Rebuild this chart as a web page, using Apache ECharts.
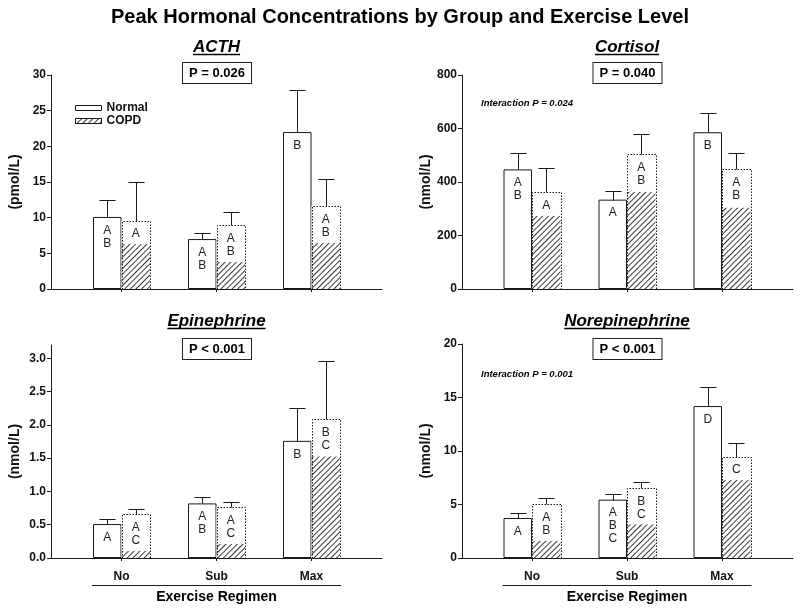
<!DOCTYPE html>
<html><head><meta charset="utf-8">
<script src="https://cdn.jsdelivr.net/npm/echarts@6/dist/echarts.min.js"></script>
<style>html,body{margin:0;padding:0;background:#fff}#c{width:800px;height:610px}</style>
</head><body><div id="c"></div>
<script>
// ---------- DATA ----------
const categories = ['No', 'Sub', 'Max'];

const acthNormal = [10.1, 7.0, 22.0];
const acthNormalErr = [12.5, 7.9, 27.9];
const acthCopd = [9.6, 9.0, 11.6];
const acthCopdErr = [15.0, 10.8, 15.4];
const acthCopdHatch = [6.3, 3.8, 6.5];
const acthNormalLetters = ['A\nB', 'A\nB', 'B'];
const acthCopdLetters = ['A', 'A\nB', 'A\nB'];

const cortNormal = [447, 334, 586];
const cortNormalErr = [510, 368, 658];
const cortCopd = [361, 503, 447];
const cortCopdErr = [452, 581, 510];
const cortCopdHatch = [274, 364, 305];
const cortNormalLetters = ['A\nB', 'A', 'B'];
const cortCopdLetters = ['A', 'A\nB', 'A\nB'];

const epiNormal = [0.51, 0.82, 1.76];
const epiNormalErr = [0.58, 0.92, 2.25];
const epiCopd = [0.66, 0.77, 2.09];
const epiCopdErr = [0.74, 0.84, 2.96];
const epiCopdHatch = [0.11, 0.21, 1.53];
const epiNormalLetters = ['A', 'A\nB', 'B'];
const epiCopdLetters = ['A\nC', 'A\nC', 'B\nC'];

const norNormal = [3.74, 5.45, 14.2];
const norNormalErr = [4.24, 6.01, 16.0];
const norCopd = [5.02, 6.51, 9.47];
const norCopdErr = [5.58, 7.13, 10.78];
const norCopdHatch = [1.62, 3.15, 7.32];
const norNormalLetters = ['A', 'A\nB\nC', 'D'];
const norCopdLetters = ['A\nB', 'B\nC', 'C'];

const acthTicks = [0, 5, 10, 15, 20, 25, 30];
const cortTicks = [0, 200, 400, 600, 800];
const epiTicks = [0, 0.5, 1.0, 1.5, 2.0, 2.5, 3.0];
const norTicks = [0, 5, 10, 15, 20];

// ---------- LAYOUT ----------
const FONT = '"Liberation Sans", Arial, Helvetica, sans-serif';
const panels = [
  {title:'ACTH', p:'P = 0.026', unit:'(pmol/L)', axisX:51, catLeft:74, top:75, h:214, max:30, ticks:acthTicks, dec:0,
   n:acthNormal, ne:acthNormalErr, c:acthCopd, ce:acthCopdErr, ch:acthCopdHatch, nl:acthNormalLetters, cl:acthCopdLetters, xl:false},
  {title:'Cortisol', p:'P = 0.040', unit:'(nmol/L)', axisX:462, catLeft:484.5, top:75, h:214, max:800, ticks:cortTicks, dec:0,
   n:cortNormal, ne:cortNormalErr, c:cortCopd, ce:cortCopdErr, ch:cortCopdHatch, nl:cortNormalLetters, cl:cortCopdLetters, xl:false,
   inter:'Interaction P = 0.024'},
  {title:'Epinephrine', p:'P < 0.001', unit:'(nmol/L)', axisX:51, catLeft:74, top:345, h:213, max:3.2, ticks:epiTicks, dec:1,
   n:epiNormal, ne:epiNormalErr, c:epiCopd, ce:epiCopdErr, ch:epiCopdHatch, nl:epiNormalLetters, cl:epiCopdLetters, xl:true},
  {title:'Norepinephrine', p:'P < 0.001', unit:'(nmol/L)', axisX:462, catLeft:484.5, top:344, h:214, max:20, ticks:norTicks, dec:0,
   n:norNormal, ne:norNormalErr, c:norCopd, ce:norCopdErr, ch:norCopdHatch, nl:norNormalLetters, cl:norCopdLetters, xl:true,
   inter:'Interaction P = 0.001'}
];

const grid = [], xAxis = [], yAxis = [], series = [], graphic = [];
const LINE = '#1a1a1a';

const ctx = document.createElement('canvas').getContext('2d');
function textW(txt, font){ ctx.font = font; return ctx.measureText(txt).width; }

// error bars (and, for COPD, the dotted outline of the whole bar)
function errSeries(pi, vals, errs, sign){
  return {
    type:'custom', xAxisIndex:pi, yAxisIndex:pi, z:4, silent:true,
    data: vals.map((v,i)=>[i, v, errs[i]]),
    renderItem:(params, api)=>{
      const i = api.value(0);
      const base = api.coord([i, api.value(1)]);
      const top = api.coord([i, api.value(2)]);
      const zero = api.coord([i, 0]);
      const band = api.size([1,0])[0];
      const bw = band*0.3;
      const x = Math.round(base[0] + sign*band*0.15) + 0.5;
      const cap = band*0.085;
      const yt = Math.round(top[1]) + 0.5;
      const yb = Math.round(base[1]) + 0.5;
      const children = [
        {type:'line', shape:{x1:x, y1:yb, x2:x, y2:yt}, style:{stroke:LINE, lineWidth:1}},
        {type:'line', shape:{x1:x-cap, y1:yt, x2:x+cap, y2:yt}, style:{stroke:LINE, lineWidth:1}}
      ];
      if (sign > 0){
        const xl = Math.round(base[0]) + 0.5, xr = Math.round(base[0] + bw) + 0.5;
        const y0 = Math.round(zero[1]) + 0.5;
        children.push({type:'polyline', shape:{points:[[xl,y0],[xl,yb],[xr,yb],[xr,y0]]},
          style:{stroke:LINE, lineWidth:1, lineDash:[1.5,1.5], fill:null}});
      }
      return {type:'group', children};
    }
  };
}

const hatch = {symbol:'rect', symbolSize:1, symbolKeepAspect:false, color:'#3a3a3a', backgroundColor:null,
  dashArrayX:[1,0], dashArrayY:[1,3], rotation:-Math.PI/4};

panels.forEach((P, pi)=>{
  grid.push({left:P.catLeft, width:285, top:P.top, height:P.h, containLabel:false, outerBoundsMode:'none'});
  xAxis.push({type:'category', gridIndex:pi, data:categories, boundaryGap:true,
    axisLine:{show:false}, axisTick:{show:true, alignWithLabel:true, length:3, lineStyle:{color:LINE}},
    axisLabel:{show:P.xl, margin:13, fontFamily:FONT, fontSize:12, fontWeight:'bold', color:'#111'}});
  yAxis.push({type:'value', gridIndex:pi, min:0, max:P.max, position:'left', offset:P.catLeft-P.axisX,
    splitLine:{show:false},
    axisLine:{show:true, lineStyle:{color:LINE}},
    axisTick:{show:true, inside:false, length:4, customValues:P.ticks, lineStyle:{color:LINE}},
    axisLabel:{customValues:P.ticks, margin:5, fontFamily:FONT, fontSize:12, fontWeight:'bold', color:'#111',
      formatter:v=>Number(v).toFixed(P.dec)},
    name:P.unit, nameLocation:'middle', nameGap:29,
    nameTextStyle:{fontFamily:FONT, fontSize:14, fontWeight:'bold', color:'#111'}});

  series.push({type:'bar', name:'Normal', xAxisIndex:pi, yAxisIndex:pi, data:P.n, barWidth:'30%', barGap:'0%',
    itemStyle:{color:'#fff', borderColor:LINE, borderWidth:1},
    label:{show:true, position:'insideTop', distance:7, lineHeight:13, fontFamily:FONT, fontSize:12, color:'#222',
      formatter:p=>P.nl[p.dataIndex]}});
  series.push({type:'bar', name:'COPD', stack:'copd'+pi, xAxisIndex:pi, yAxisIndex:pi, data:P.ch, barWidth:'30%', barGap:'0%',
    itemStyle:{color:'#fff', borderWidth:0, decal:hatch}});
  series.push({type:'bar', name:'COPD top', stack:'copd'+pi, xAxisIndex:pi, yAxisIndex:pi,
    data:P.c.map((v,i)=>+(v - P.ch[i]).toFixed(4)), barWidth:'30%', barGap:'0%',
    itemStyle:{color:'#fff', borderWidth:0},
    label:{show:true, position:'insideTop', distance:7, lineHeight:13, fontFamily:FONT, fontSize:12, color:'#222',
      formatter:p=>P.cl[p.dataIndex]}});
  series.push(errSeries(pi, P.n, P.ne, -1));
  series.push(errSeries(pi, P.c, P.ce, 1));

  // subtitle
  const cx = P.catLeft + 142.5;
  const ty = P.top < 200 ? 47 : 321;
  const tfont = 'italic bold 17px ' + FONT;
  graphic.push({type:'text', x:cx, y:ty, style:{text:P.title, font:tfont, align:'center', verticalAlign:'middle', fill:'#000'}});
  const tw = textW(P.title, tfont);
  graphic.push({type:'line', shape:{x1:cx-tw/2, y1:ty+7.5, x2:cx+tw/2, y2:ty+7.5}, style:{stroke:'#000', lineWidth:1.5}});
  // P box
  graphic.push({type:'text', x:cx+0.5, y:P.top < 200 ? 73 : 349, style:{text:P.p, font:'bold 13px ' + FONT, align:'center', verticalAlign:'middle',
    fill:'#000', padding:[4,6,3,6], borderColor:'#222', borderWidth:1, backgroundColor:'#fff'}});
  if (P.inter){
    graphic.push({type:'text', x:481, y:(P.top < 200 ? 103 : 374), style:{text:P.inter, font:'italic bold 9.5px ' + FONT,
      align:'left', verticalAlign:'middle', fill:'#000'}});
  }
  if (P.xl){
    graphic.push({type:'line', shape:{x1:cx-124.5, y1:585.5, x2:cx+124.5, y2:585.5}, style:{stroke:LINE, lineWidth:1}});
    graphic.push({type:'text', x:cx, y:597, style:{text:'Exercise Regimen', font:'bold 14px ' + FONT, align:'center', verticalAlign:'middle', fill:'#000'}});
  }
});

// full-width x axis lines
panels.forEach((P, pi)=>{
  grid.push({left:P.axisX, width:331, top:P.top, height:P.h, containLabel:false, outerBoundsMode:'none'});
  xAxis.push({type:'value', gridIndex:4+pi, min:0, max:1, axisLine:{show:true, lineStyle:{color:LINE}},
    axisTick:{show:false}, axisLabel:{show:false}, splitLine:{show:false}});
  yAxis.push({type:'value', gridIndex:4+pi, show:false, min:0, max:1, splitLine:{show:false}});
});

graphic.push({type:'text', x:400, y:17, style:{text:'Peak Hormonal Concentrations by Group and Exercise Level',
  font:'bold 20px ' + FONT, align:'center', verticalAlign:'middle', fill:'#000'}});

const chart = echarts.init(document.getElementById('c'), null, {renderer:'canvas'});
chart.setOption({
  animation:false,
  backgroundColor:'#fff',
  textStyle:{fontFamily:FONT},
  legend:{data:['Normal','COPD'], orient:'vertical', left:70, top:97, itemWidth:26, itemHeight:5, itemGap:1, icon:'rect',
    textStyle:{fontFamily:FONT, fontSize:12, fontWeight:'bold', color:'#111'}, selectedMode:false,
    itemStyle:{borderColor:LINE, borderWidth:1}},
  grid, xAxis, yAxis, series, graphic
});
</script></body></html>
